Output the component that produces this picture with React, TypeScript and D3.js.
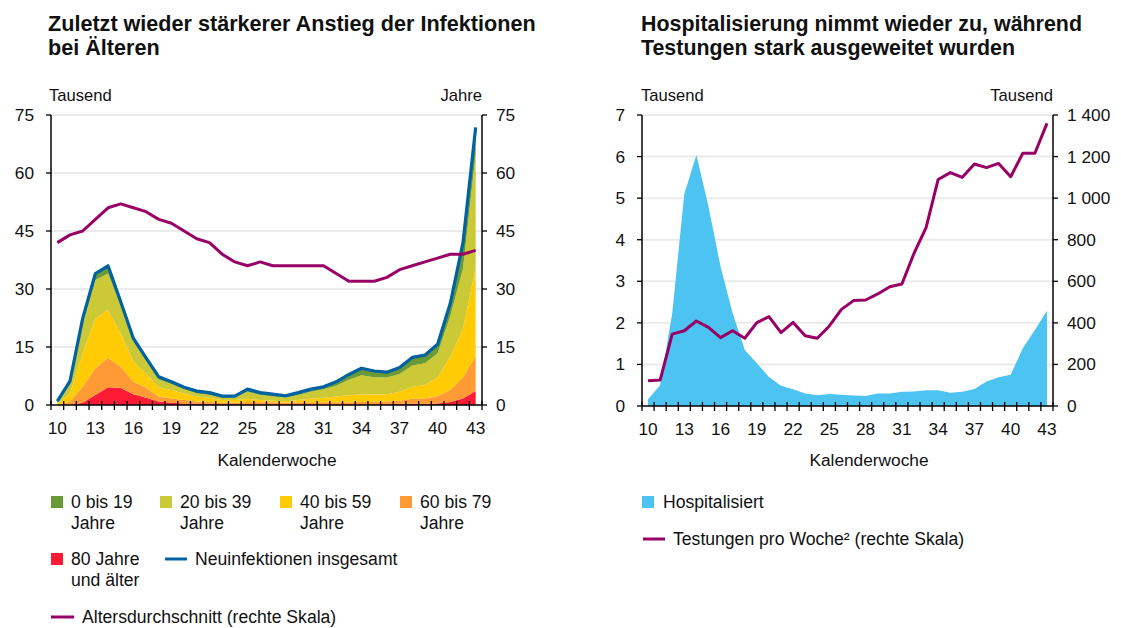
import React from 'react'
import * as d3 from 'd3'

const weeks = [10, 11, 12, 13, 14, 15, 16, 17, 18, 19, 20, 21, 22, 23, 24, 25, 26, 27, 28, 29, 30, 31, 32, 33, 34, 35, 36, 37, 38, 39, 40, 41, 42, 43]
const weekTicks = [10, 13, 16, 19, 22, 25, 28, 31, 34, 37, 40, 43]

// Neuinfektionen je Altersgruppe (Tausend)
const age0to19 = [0.4, 0.6, 1.4, 1.7, 2.0, 1.0, 0.8, 0.6, 0.7, 0.6, 0.5, 0.6, 0.6, 0.4, 0.4, 0.7, 0.6, 0.6, 0.5, 0.6, 0.7, 0.6, 1.0, 1.4, 1.8, 1.6, 1.4, 1.7, 2.1, 2.1, 2.3, 3.3, 6.7, 6.8]
const age20to39 = [0.3, 2.6, 7.6, 9.9, 9.4, 7.2, 5.2, 3.6, 2.0, 1.5, 1.1, 0.8, 0.7, 0.6, 0.6, 1.8, 1.3, 1.1, 0.9, 1.3, 1.8, 2.2, 2.8, 4.0, 4.9, 4.5, 4.3, 4.6, 5.5, 5.6, 6.2, 10.5, 15.5, 29.7]
const age40to59 = [0.3, 2.1, 8.7, 12.9, 12.4, 8.6, 5.2, 3.5, 2.4, 2.2, 1.7, 1.3, 1.1, 0.7, 0.7, 0.8, 0.6, 0.4, 0.4, 0.6, 0.9, 1.2, 1.5, 1.8, 2.0, 1.9, 1.9, 2.3, 3.1, 3.5, 4.9, 8.6, 12.7, 22.6]
const age60to79 = [0, 0.9, 4.1, 6.9, 7.6, 5.5, 3.2, 2.6, 1.3, 1.1, 0.9, 0.6, 0.5, 0.4, 0.4, 0.6, 0.5, 0.5, 0.4, 0.5, 0.5, 0.5, 0.5, 0.5, 0.6, 0.6, 0.7, 0.8, 1.3, 1.4, 1.9, 3.1, 5.4, 9.1]
const age80plus = [0, 0, 0.6, 2.6, 4.6, 4.4, 2.8, 1.9, 0.9, 0.6, 0.4, 0.3, 0.3, 0.2, 0.2, 0.2, 0.2, 0.2, 0.2, 0.2, 0.2, 0.2, 0.2, 0.2, 0.2, 0.2, 0.2, 0.3, 0.3, 0.3, 0.4, 0.8, 1.7, 3.6]
const totalNew = [1, 6.2, 22.4, 34, 36, 26.7, 17.2, 12.2, 7.3, 6, 4.6, 3.6, 3.2, 2.3, 2.3, 4.1, 3.2, 2.8, 2.4, 3.2, 4.1, 4.7, 6, 7.9, 9.5, 8.8, 8.5, 9.7, 12.3, 12.9, 15.7, 26.3, 42, 71.8]
const avgAge = [42, 44, 45, 48, 51, 52, 51, 50, 48, 47, 45, 43, 42, 39, 37, 36, 37, 36, 36, 36, 36, 36, 34, 32, 32, 32, 33, 35, 36, 37, 38, 39, 39, 40]
const leftTicks = [0, 15, 30, 45, 60, 75]

// Hospitalisiert (Tausend), Testungen pro Woche (Tausend)
const hospitalised = [0.16, 0.5, 2.23, 5.1, 6.04, 4.8, 3.35, 2.23, 1.35, 1.03, 0.7, 0.49, 0.4, 0.3, 0.26, 0.29, 0.27, 0.25, 0.24, 0.3, 0.3, 0.34, 0.35, 0.38, 0.38, 0.32, 0.34, 0.41, 0.59, 0.69, 0.75, 1.39, 1.83, 2.29]
const tests = [122, 125, 346, 362, 409, 378, 329, 362, 326, 401, 430, 353, 402, 338, 326, 385, 465, 507, 510, 539, 574, 587, 734, 858, 1090, 1123, 1100, 1164, 1147, 1167, 1103, 1216, 1216, 1360]
const hospTicks = [0, 1, 2, 3, 4, 5, 6, 7]
const testTicks = [0, 200, 400, 600, 800, 1000, 1200, 1400]
const testTickLabels = ['0', '200', '400', '600', '800', '1 000', '1 200', '1 400']

const groups = [
  { key: 'a80', label: ['80 Jahre', 'und älter'], color: '#ff1a35', values: age80plus },
  { key: 'a60', label: ['60 bis 79', 'Jahre'], color: '#ff9a35', values: age60to79 },
  { key: 'a40', label: ['40 bis 59', 'Jahre'], color: '#ffcb05', values: age40to59 },
  { key: 'a20', label: ['20 bis 39', 'Jahre'], color: '#cbc935', values: age20to39 },
  { key: 'a0', label: ['0 bis 19', 'Jahre'], color: '#6a9a35', values: age0to19 },
]

const font = 'Liberation Sans, Arial, sans-serif'
const blue = '#0062a0'
const purple = '#990066'
const skyBlue = '#4cc3f0'
const grid = '#ebebeb'
const fs = 17.6

const XAxis = ({ x, y0 }) => {
  const bw = x.bandwidth()
  const edges = [...weeks.map(w => x(w)), x.range()[1]]
  return (
    <g>
      <line x1={x.range()[0]} x2={x.range()[1]} y1={y0} y2={y0} stroke='#000' strokeWidth={1.5} />
      {edges.map((e, i) => (
        <line key={i} x1={e} x2={e} y1={y0 - 4} y2={y0 + 5} stroke='#000' strokeWidth={1.3} />
      ))}
      {weekTicks.map(w => (
        <text key={w} x={x(w) + bw / 2} y={y0 + 29} textAnchor='middle' fontSize={17.3}>{w}</text>
      ))}
    </g>
  )
}

const YAxis = ({ scale, xPos, ticks, labels, side }) => {
  const [r0, r1] = scale.range()
  const dir = side === 'left' ? -1 : 1
  return (
    <g>
      <line x1={xPos} x2={xPos} y1={r0} y2={r1} stroke='#000' strokeWidth={1.5} />
      {ticks.map((t, i) => (
        <g key={t}>
          <line x1={xPos} x2={xPos + dir * 5} y1={scale(t)} y2={scale(t)} stroke='#000' strokeWidth={1.3} />
          <text
            x={side === 'left' ? xPos - 17 : xPos + 14}
            y={scale(t) + 6}
            textAnchor={side === 'left' ? 'end' : 'start'}
            fontSize={17.3}
          >
            {labels ? labels[i] : t}
          </text>
        </g>
      ))}
    </g>
  )
}

const Grid = ({ scale, ticks, x0, x1 }) => (
  <g>
    {ticks.filter(t => t !== 0).map(t => (
      <line key={t} x1={x0} x2={x1} y1={scale(t)} y2={scale(t)} stroke={grid} strokeWidth={2} />
    ))}
  </g>
)

const LeftChart = () => {
  const x = d3.scaleBand().domain(weeks).range([51, 482])
  const y = d3.scaleLinear().domain([0, 75]).range([405, 115])
  const cx = w => x(w) + x.bandwidth() / 2

  const table = weeks.map((w, i) => {
    const row = { week: w }
    groups.forEach(g => { row[g.key] = g.values[i] })
    return row
  })
  const series = d3.stack().keys(groups.map(g => g.key))(table)
  const area = d3.area().x(d => cx(d.data.week)).y0(d => y(d[0])).y1(d => y(d[1]))
  const line = d3.line().x((d, i) => cx(weeks[i])).y(d => y(d))

  // legend order: youngest first
  const legendCols = [4, 3, 2, 1]
  const colX = [51, 160, 280, 400]

  return (
    <g>
      <text x={48} y={31} fontSize={21.6} fontWeight='bold'>Zuletzt wieder stärkerer Anstieg der Infektionen</text>
      <text x={48} y={55} fontSize={21.6} fontWeight='bold'>bei Älteren</text>
      <text x={49} y={101} fontSize={16.6}>Tausend</text>
      <text x={482} y={101} fontSize={16.6} textAnchor='end'>Jahre</text>

      <Grid scale={y} ticks={leftTicks} x0={51} x1={482} />
      {series.map((s, i) => (
        <path key={s.key} d={area(s)} fill={groups[i].color} />
      ))}
      <path d={line(totalNew)} fill='none' stroke={blue} strokeWidth={3.2} strokeLinejoin='round' />
      <path d={line(avgAge)} fill='none' stroke={purple} strokeWidth={3} strokeLinejoin='round' />

      <YAxis scale={y} xPos={51} ticks={leftTicks} side='left' />
      <YAxis scale={y} xPos={482} ticks={leftTicks} side='right' />
      <XAxis x={x} y0={405} />
      <text x={277} y={466} fontSize={17.3} textAnchor='middle'>Kalenderwoche</text>

      {legendCols.map((gi, k) => (
        <g key={gi} transform={`translate(${colX[k]},0)`}>
          <rect x={0} y={496} width={12} height={12} fill={groups[gi].color} />
          <text x={20} y={508} fontSize={fs}>{groups[gi].label[0]}</text>
          <text x={20} y={529} fontSize={fs}>{groups[gi].label[1]}</text>
        </g>
      ))}
      <rect x={51} y={553} width={12} height={12} fill={groups[0].color} />
      <text x={71} y={565} fontSize={fs}>{groups[0].label[0]}</text>
      <text x={71} y={586} fontSize={fs}>{groups[0].label[1]}</text>
      <line x1={165} x2={187} y1={559} y2={559} stroke={blue} strokeWidth={3} />
      <text x={195} y={565} fontSize={fs}>Neuinfektionen insgesamt</text>
      <line x1={51} x2={74} y1={617} y2={617} stroke={purple} strokeWidth={3} />
      <text x={82} y={623} fontSize={fs}>Altersdurchschnitt (rechte Skala)</text>
    </g>
  )
}

const RightChart = () => {
  const x = d3.scaleBand().domain(weeks).range([642, 1053])
  const yL = d3.scaleLinear().domain([0, 7]).range([406, 115])
  const yR = d3.scaleLinear().domain([0, 1400]).range([406, 115])
  const cx = w => x(w) + x.bandwidth() / 2

  const area = d3.area().x((d, i) => cx(weeks[i])).y0(yL(0)).y1(d => yL(d))
  const line = d3.line().x((d, i) => cx(weeks[i])).y(d => yR(d))

  return (
    <g>
      <text x={641} y={31} fontSize={21.4} fontWeight='bold'>Hospitalisierung nimmt wieder zu, während</text>
      <text x={641} y={55} fontSize={21.4} fontWeight='bold'>Testungen stark ausgeweitet wurden</text>
      <text x={641} y={101} fontSize={16.6}>Tausend</text>
      <text x={1053} y={101} fontSize={16.6} textAnchor='end'>Tausend</text>

      <Grid scale={yL} ticks={hospTicks} x0={642} x1={1053} />
      <path d={area(hospitalised)} fill={skyBlue} />
      <path d={line(tests)} fill='none' stroke={purple} strokeWidth={3} strokeLinejoin='round' />

      <YAxis scale={yL} xPos={642} ticks={hospTicks} side='left' />
      <YAxis scale={yR} xPos={1053} ticks={testTicks} labels={testTickLabels} side='right' />
      <XAxis x={x} y0={406} />
      <text x={869} y={466} fontSize={17.3} textAnchor='middle'>Kalenderwoche</text>

      <rect x={642} y={496} width={12} height={12} fill={skyBlue} />
      <text x={663} y={508} fontSize={fs}>Hospitalisiert</text>
      <line x1={643} x2={665} y1={539} y2={539} stroke={purple} strokeWidth={3} />
      <text x={673} y={545} fontSize={fs}>Testungen pro Woche² (rechte Skala)</text>
    </g>
  )
}

export default function App() {
  return (
    <svg
      width={1121}
      height={628}
      viewBox='0 0 1121 628'
      style={{ position: 'absolute', left: 0, top: 0, background: '#fff' }}
      fontFamily={font}
      fill='#111'
    >
      <LeftChart />
      <RightChart />
    </svg>
  )
}
